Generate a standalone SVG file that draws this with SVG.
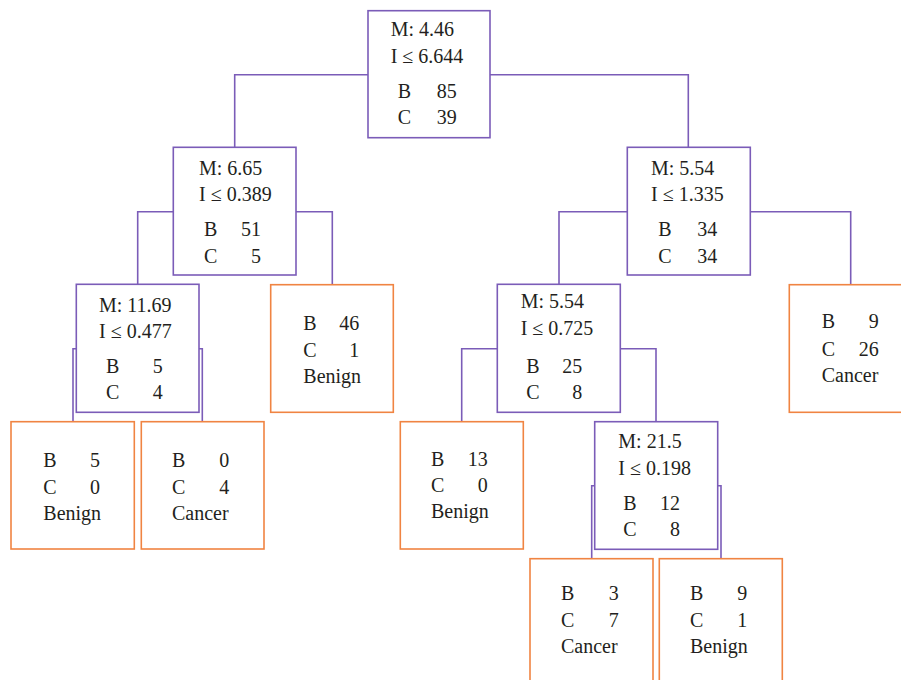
<svg xmlns="http://www.w3.org/2000/svg" width="901" height="680" viewBox="0 0 901 680">
<style>
.bg{fill:#ffffff}
.split{fill:#ffffff;stroke:#7b5cb8;stroke-width:1.6}
.leaf{fill:#ffffff;stroke:#f08442;stroke-width:1.6}
.conn{fill:none;stroke:#7b5cb8;stroke-width:1.6}
text{font-family:"Liberation Serif","Times New Roman",serif;font-size:20px;fill:#231f20}
.r{text-anchor:end}
</style>
<rect class="bg" x="0" y="0" width="901" height="680"/>
<g id="connectors">
<path class="conn" d="M368,74.7 H234.7 V147.3 M490,74.7 H688.3 V147.3"/>
<path class="conn" d="M173.3,211.7 H137.7 V284.3 M296,211.7 H332.3 V284.7"/>
<path class="conn" d="M76.3,348.7 H73 V421.7 M199,348.7 H202.3 V421.7"/>
<path class="conn" d="M627.3,211.7 H559 V284.3 M750.3,211.7 H850.7 V284.7"/>
<path class="conn" d="M497.3,348.7 H461.7 V421.7 M620.3,348.7 H656 V421.7"/>
<path class="conn" d="M594.7,485.7 H591.7 V558.7 M717.7,485.7 H721 V558.7"/>
</g>
<g id="root">
<rect class="split" x="368" y="10.7" width="122" height="127"/>
<text x="390.7" y="36">M: 4.46</text>
<text x="390.7" y="62.7">I ≤ 6.644</text>
<text x="397.7" y="97.7">B</text><text class="r" x="456.7" y="97.7">85</text>
<text x="397.7" y="124">C</text><text class="r" x="456.7" y="124">39</text>
</g>
<g id="nodeL1">
<rect class="split" x="173.3" y="147.3" width="122.7" height="127.7"/>
<text x="199" y="175">M: 6.65</text>
<text x="199" y="201">I ≤ 0.389</text>
<text x="204" y="236">B</text><text class="r" x="261" y="236">51</text>
<text x="204" y="263.3">C</text><text class="r" x="261" y="263.3">5</text>
</g>
<g id="nodeL2">
<rect class="split" x="76.3" y="284.3" width="122.7" height="128"/>
<text x="99" y="311.7">M: 11.69</text>
<text x="99" y="337.7">I ≤ 0.477</text>
<text x="106" y="373.3">B</text><text class="r" x="162.7" y="373.3">5</text>
<text x="106" y="399.3">C</text><text class="r" x="162.7" y="399.3">4</text>
</g>
<g id="leafL2R">
<rect class="leaf" x="270.7" y="284.7" width="122.6" height="127.6"/>
<text x="303.3" y="330">B</text><text class="r" x="359.3" y="330">46</text>
<text x="303.3" y="356.7">C</text><text class="r" x="359.3" y="356.7">1</text>
<text x="303.3" y="383.3">Benign</text>
</g>
<g id="leafL3L">
<rect class="leaf" x="11" y="421.7" width="123.3" height="127.3"/>
<text x="43.3" y="466.7">B</text><text class="r" x="100" y="466.7">5</text>
<text x="43.3" y="494">C</text><text class="r" x="100" y="494">0</text>
<text x="43.3" y="520">Benign</text>
</g>
<g id="leafL3R">
<rect class="leaf" x="141.3" y="421.7" width="122.7" height="127.3"/>
<text x="172" y="466.7">B</text><text class="r" x="229.3" y="466.7">0</text>
<text x="172" y="494">C</text><text class="r" x="229.3" y="494">4</text>
<text x="172" y="520">Cancer</text>
</g>
<g id="nodeR1">
<rect class="split" x="627.3" y="147.3" width="123" height="127.7"/>
<text x="651" y="175">M: 5.54</text>
<text x="651" y="201">I ≤ 1.335</text>
<text x="658.3" y="236">B</text><text class="r" x="717.3" y="236">34</text>
<text x="658.3" y="263">C</text><text class="r" x="717.3" y="263">34</text>
</g>
<g id="nodeR2">
<rect class="split" x="497.3" y="284.3" width="123" height="128"/>
<text x="520.7" y="308.3">M: 5.54</text>
<text x="520.7" y="335">I ≤ 0.725</text>
<text x="526.3" y="372.7">B</text><text class="r" x="582.3" y="372.7">25</text>
<text x="526.3" y="399">C</text><text class="r" x="582.3" y="399">8</text>
</g>
<g id="leafR2R">
<rect class="leaf" x="789.3" y="284.7" width="125" height="127.6"/>
<text x="821.7" y="328.3">B</text><text class="r" x="878.7" y="328.3">9</text>
<text x="821.7" y="355.7">C</text><text class="r" x="878.7" y="355.7">26</text>
<text x="821.7" y="381.7">Cancer</text>
</g>
<g id="leafR3L">
<rect class="leaf" x="400.3" y="421.7" width="123" height="127.3"/>
<text x="431" y="465.7">B</text><text class="r" x="487.7" y="465.7">13</text>
<text x="431" y="492.3">C</text><text class="r" x="487.7" y="492.3">0</text>
<text x="431" y="518.3">Benign</text>
</g>
<g id="nodeR3">
<rect class="split" x="594.7" y="421.7" width="123" height="127.6"/>
<text x="618.3" y="448.3">M: 21.5</text>
<text x="618.3" y="475">I ≤ 0.198</text>
<text x="623.3" y="510">B</text><text class="r" x="680" y="510">12</text>
<text x="623.3" y="536">C</text><text class="r" x="680" y="536">8</text>
</g>
<g id="leafR4L">
<rect class="leaf" x="530" y="558.7" width="123" height="140"/>
<text x="561" y="600">B</text><text class="r" x="618.7" y="600">3</text>
<text x="561" y="626.7">C</text><text class="r" x="618.7" y="626.7">7</text>
<text x="561" y="652.7">Cancer</text>
</g>
<g id="leafR4R">
<rect class="leaf" x="659.3" y="558.7" width="123" height="140"/>
<text x="690" y="600">B</text><text class="r" x="747.3" y="600">9</text>
<text x="690" y="626.7">C</text><text class="r" x="747.3" y="626.7">1</text>
<text x="690" y="652.7">Benign</text>
</g>
</svg>
